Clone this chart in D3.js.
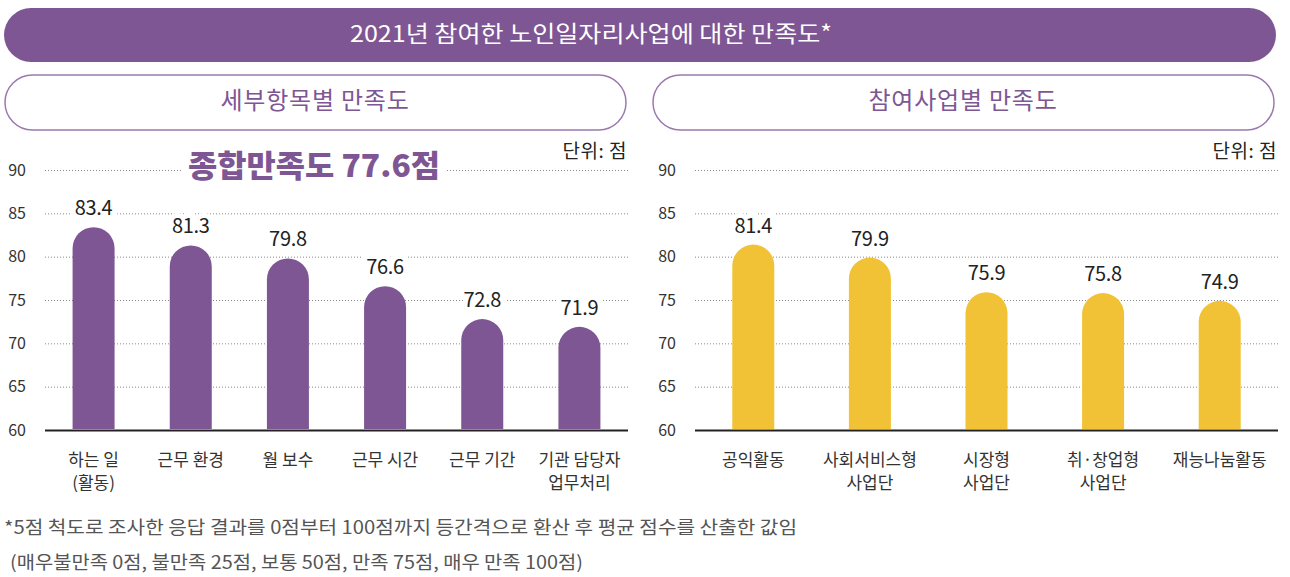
<!DOCTYPE html>
<html>
  <head>
    <meta charset="utf-8">
    <title>노인일자리사업 만족도</title>
    <script src="https://d3js.org/d3.v7.min.js"></script>
    <style>
      body { margin: 0; background: #fff; }
      svg { font-family: "Noto Sans CJK KR", "Noto Sans", sans-serif; display: block; }
    </style>
  </head>
  <body>
    <div id="chart"></div>
    <script>
      // data
      const itemCats = [["하는 일", "(활동)"], ["근무 환경"], ["월 보수"], ["근무 시간"], ["근무 기간"], ["기관 담당자", "업무처리"]];
      const itemVals = [83.4, 81.3, 79.8, 76.6, 72.8, 71.9];
      const bizCats = [["공익활동"], ["사회서비스형", "사업단"], ["시장형", "사업단"], ["취·창업형", "사업단"], ["재능나눔활동"]];
      const bizVals = [81.4, 79.9, 75.9, 75.8, 74.9];
      const yTicks = [60, 65, 70, 75, 80, 85, 90];

      const purple = "#7e5694";
      const yellow = "#f1c235";

      const W = 1290, H = 577;
      const svg = d3.select("#chart").append("svg")
        .attr("width", W).attr("height", H);

      // main title banner
      svg.append("rect")
        .attr("x", 4).attr("y", 8).attr("width", 1272).attr("height", 54)
        .attr("rx", 27).attr("fill", purple);
      svg.append("text")
        .attr("x", 591).attr("y", 34).attr("dy", "0.35em")
        .attr("text-anchor", "middle").attr("fill", "#fff")
        .attr("font-size", 23)
        .attr("textLength", 482).attr("lengthAdjust", "spacingAndGlyphs")
        .text("2021년 참여한 노인일자리사업에 대한 만족도*");

      // sub title pills
      const pills = [
        {x: 4, text: "세부항목별 만족도"},
        {x: 652, text: "참여사업별 만족도"}
      ];
      pills.forEach(p => {
        svg.append("rect")
          .attr("x", p.x + 1).attr("y", 75).attr("width", 621).attr("height", 55)
          .attr("rx", 27.5).attr("fill", "#fff")
          .attr("stroke", "#9a7aae").attr("stroke-width", 1.5);
        svg.append("text")
          .attr("x", p.x + 311).attr("y", 101).attr("dy", "0.35em")
          .attr("text-anchor", "middle").attr("fill", purple)
          .attr("font-size", 24).attr("letter-spacing", 0.8)
          .text(p.text);
      });

      function drawChart(cats, vals, color, x0, x1) {
        const g = svg.append("g");
        const y = d3.scaleLinear().domain([60, 90]).range([430, 170]);
        const x = d3.scaleBand().domain(d3.range(cats.length)).range([x0, x1]);
        const barW = 42;

        // grid + tick labels
        const axis = g.append("g")
          .attr("transform", `translate(${x0},0)`)
          .call(d3.axisLeft(y).tickValues(yTicks).tickSize(-(x1 - x0)).tickPadding(19));
        axis.select(".domain").remove();
        axis.selectAll(".tick line")
          .attr("stroke", d => d === 60 ? "#222" : "#888")
          .attr("stroke-width", d => d === 60 ? 2 : 1)
          .attr("stroke-dasharray", d => d === 60 ? null : "1,2");
        axis.selectAll(".tick text")
          .attr("fill", "#333").attr("font-size", 16)
          .attr("font-family", "'Noto Sans CJK KR', sans-serif");

        // bars with rounded tops
        const r = barW / 2;
        g.selectAll(".bar").data(vals).enter().append("path")
          .attr("fill", color)
          .attr("d", (d, i) => {
            const cx = x(i) + x.bandwidth() / 2;
            const top = y(d), base = y(60) - 1;
            return `M${cx - r},${base} L${cx - r},${top + r} A${r},${r} 0 0 1 ${cx + r},${top + r} L${cx + r},${base} Z`;
          });

        // value labels
        g.selectAll(".val").data(vals).enter().append("text")
          .attr("x", (d, i) => x(i) + x.bandwidth() / 2)
          .attr("y", d => y(d) - 12)
          .attr("text-anchor", "middle").attr("fill", "#222")
          .attr("font-size", 20).attr("letter-spacing", -0.3)
          .attr("stroke", "#fff").attr("stroke-width", 10).attr("paint-order", "stroke")
          .text(d => d.toFixed(1));

        // category labels
        const lbl = g.selectAll(".cat").data(cats).enter().append("text")
          .attr("x", (d, i) => x(i) + x.bandwidth() / 2)
          .attr("y", 466)
          .attr("text-anchor", "middle").attr("fill", "#333")
          .attr("font-size", 17);
        lbl.selectAll("tspan").data((d, i) => d.map(t => ({t, i}))).enter().append("tspan")
          .attr("x", function () { return d3.select(this.parentNode).attr("x"); })
          .attr("dy", (d, j) => j === 0 ? 0 : 23)
          .text(d => d.t);

        // unit
        g.append("text")
          .attr("x", x1 - 1).attr("y", 158)
          .attr("text-anchor", "end").attr("fill", "#222")
          .attr("font-size", 19).attr("letter-spacing", 0.5)
          .text("단위: 점");
        return g;
      }

      drawChart(itemCats, itemVals, purple, 45, 628);
      drawChart(bizCats, bizVals, yellow, 695, 1278);

      // overall satisfaction headline
      svg.append("rect")
        .attr("x", 182).attr("y", 146).attr("width", 264).attr("height", 42).attr("fill", "#fff");
      svg.append("text")
        .attr("x", 314).attr("y", 166).attr("dy", "0.35em")
        .attr("text-anchor", "middle").attr("fill", purple)
        .attr("font-size", 31).attr("font-weight", 900)
        .attr("textLength", 252).attr("lengthAdjust", "spacingAndGlyphs")
        .text("종합만족도 77.6점");

      // footnote
      const notes = [
        {t: "*5점 척도로 조사한 응답 결과를 0점부터 100점까지 등간격으로 환산 후 평균 점수를 산출한 값임", x: 4, len: 793},
        {t: "(매우불만족 0점, 불만족 25점, 보통 50점, 만족 75점, 매우 만족 100점)", x: 10, len: 573}
      ];
      svg.selectAll(".note").data(notes).enter().append("text")
        .attr("x", d => d.x).attr("y", (d, i) => 534 + i * 35)
        .attr("fill", "#555").attr("font-size", 18)
        .attr("textLength", d => d.len).attr("lengthAdjust", "spacingAndGlyphs")
        .text(d => d.t);
    </script>
  </body>
</html>
